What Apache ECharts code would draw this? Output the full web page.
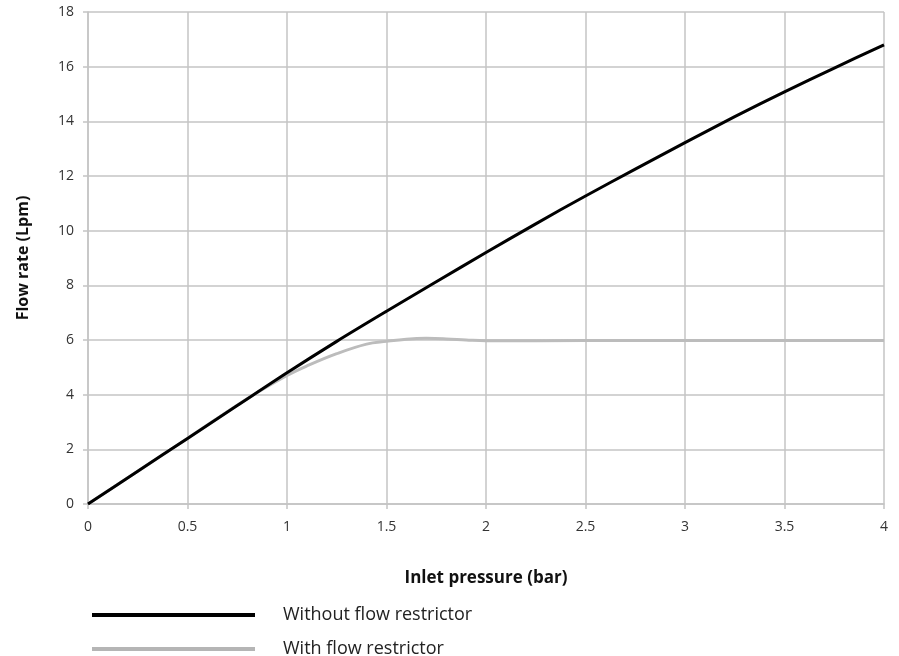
<!DOCTYPE html>
<html>
<head>
<meta charset="utf-8">
<script src="https://cdn.jsdelivr.net/npm/echarts@6/dist/echarts.min.js"></script>
<style>html,body{margin:0;padding:0;background:#fff}#c{width:899px;height:656px}</style>
</head>
<body>
<div id="c"></div>
<script>
const xTicks = [0, 0.5, 1, 1.5, 2, 2.5, 3, 3.5, 4];
const yTicks = [0, 2, 4, 6, 8, 10, 12, 14, 16, 18];
const withoutX = [0, 0.25, 0.5, 0.75, 1, 1.25, 1.5, 1.75, 2, 2.25, 2.5, 2.75, 3, 3.25, 3.5, 3.75, 4];
const withoutY = [0, 1.2, 2.4, 3.6, 4.8, 5.95, 7.05, 8.13, 9.2, 10.25, 11.27, 12.25, 13.22, 14.17, 15.08, 15.95, 16.8];
const withX = [0, 0.25, 0.5, 0.8, 1, 1.1, 1.25, 1.4, 1.5, 1.6, 1.7, 1.8, 1.9, 2, 2.5, 3, 3.5, 4];
const withY = [0, 1.2, 2.4, 3.85, 4.7, 5.05, 5.5, 5.85, 5.95, 6.03, 6.06, 6.04, 6.0, 5.97, 5.98, 5.98, 5.98, 5.98];
const seriesNames = ['Without flow restrictor', 'With flow restrictor'];

const zip = (xs, ys) => xs.map((x, i) => [x, ys[i]]);
const font = 'Open Sans, Noto Sans, sans-serif';
const chart = echarts.init(document.getElementById('c'));
chart.setOption({
  animation: false,
  backgroundColor: '#fff',
  grid: { left: 88, right: 15, top: 12, bottom: 152 },
  xAxis: {
    type: 'value', min: 0, max: 4, interval: 0.5,
    name: 'Inlet pressure (bar)', nameLocation: 'middle', nameGap: 66,
    nameTextStyle: { fontFamily: font, fontWeight: 'bold', fontSize: 17, color: '#111' },
    axisLine: { lineStyle: { color: '#c4c4c4', width: 1.5 } },
    axisTick: { show: true, length: 5, lineStyle: { color: '#c4c4c4', width: 1.5 } },
    axisLabel: { fontFamily: font, fontSize: 14, color: '#333', margin: 16, formatter: v => String(v) },
    splitLine: { show: true, lineStyle: { color: '#c4c4c4', width: 1.5 } }
  },
  yAxis: {
    type: 'value', min: 0, max: 18, interval: 2,
    name: 'Flow rate (Lpm)', nameLocation: 'middle', nameGap: 57, nameRotate: 90,
    nameTextStyle: { fontFamily: font, fontWeight: 'bold', fontSize: 16, color: '#111' },
    axisLine: { show: true, lineStyle: { color: '#c4c4c4', width: 1.5 } },
    axisTick: { show: true, length: 5, lineStyle: { color: '#c4c4c4', width: 1.5 } },
    axisLabel: { fontFamily: font, fontSize: 14, color: '#333', margin: 14 },
    splitLine: { show: true, lineStyle: { color: '#c4c4c4', width: 1.5 } }
  },
  legend: {
    orient: 'vertical', left: 92, top: 606, height: 60, padding: 0,
    itemWidth: 163, itemHeight: 4, itemGap: 16,
    textStyle: { fontFamily: font, fontSize: 18, color: '#222', padding: [0, 0, 0, 23], lineHeight: 18 },
    data: [
      { name: seriesNames[0], icon: 'rect', itemStyle: { color: '#000' } },
      { name: seriesNames[1], icon: 'rect', itemStyle: { color: '#b5b5b5' } }
    ]
  },
  series: [
    {
      name: seriesNames[1], type: 'line', smooth: 0.4, showSymbol: false, z: 2,
      data: zip(withX, withY),
      lineStyle: { color: '#bcbcbc', width: 3 }, itemStyle: { color: '#bcbcbc' }
    },
    {
      name: seriesNames[0], type: 'line', smooth: 0.3, showSymbol: false, z: 3,
      data: zip(withoutX, withoutY),
      lineStyle: { color: '#000', width: 3 }, itemStyle: { color: '#000' }
    }
  ]
});
</script>
</body>
</html>
